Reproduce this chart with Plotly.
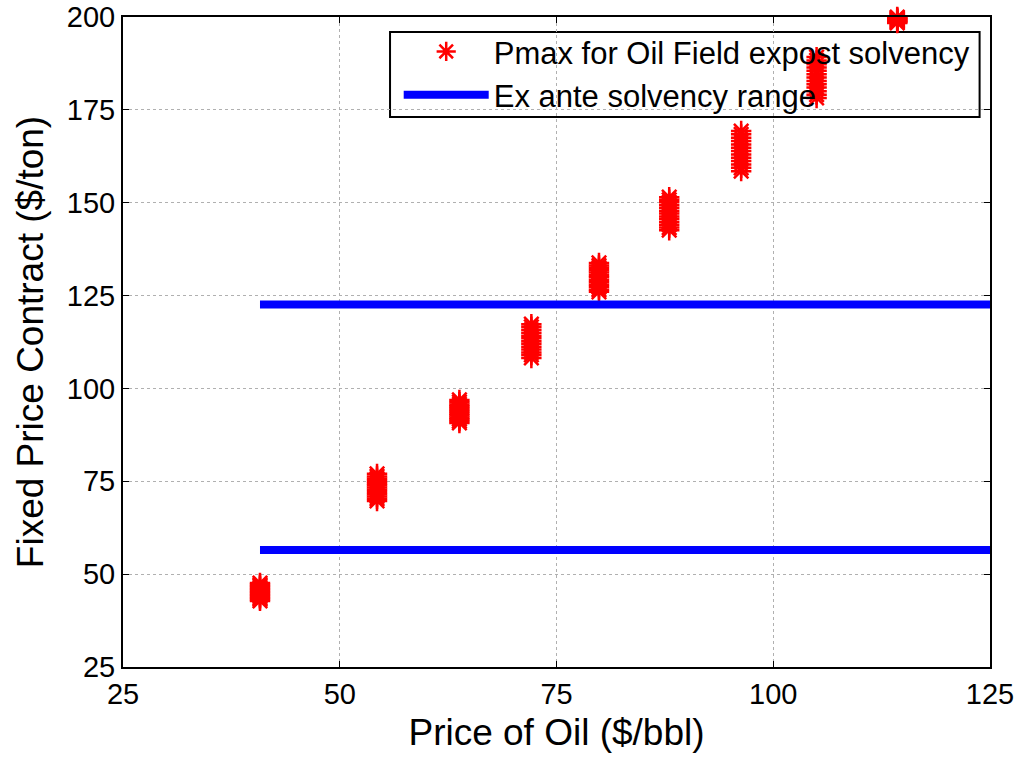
import plotly.graph_objects as go

# Oil price levels ($/bbl) of each cluster of Pmax points
oil_prices = [40.8, 54.3, 63.8, 72.1, 79.9, 88.0, 96.3, 105.0, 114.3]
# Pmax values ($/ton) read for each cluster
pmax_clusters = [
    [42.8, 43.2, 43.6, 44.0, 44.4, 44.8, 45.2, 45.6, 46.0, 46.4, 46.8, 47.2, 47.6],
    [69.7, 70.3, 70.9, 71.5, 72.1, 72.7, 73.3, 73.9, 74.5, 75.1, 75.7, 76.3, 77.0],
    [90.7, 91.2, 91.7, 92.2, 92.7, 93.2, 93.7, 94.2, 94.7, 95.2, 95.7, 96.3, 96.9],
    [108.2, 109.0, 109.7, 110.5, 111.2, 112.0, 112.7, 113.5, 114.2, 115.0, 115.8, 116.6, 117.3],
    [126.0, 126.6, 127.3, 127.9, 128.6, 129.2, 129.9, 130.5, 131.2, 131.8, 132.5, 133.1, 133.8],
    [142.6, 143.3, 144.1, 144.8, 145.6, 146.3, 147.1, 147.8, 148.6, 149.3, 150.1, 150.8, 151.5],
    [158.5, 159.4, 160.3, 161.2, 162.1, 163.0, 163.9, 164.8, 165.7, 166.6, 167.5, 168.4, 169.3],
    [178.2, 179.1, 180.0, 181.0, 181.9, 182.8, 183.7, 184.6, 185.5, 186.4, 187.3, 188.3, 189.2],
    [198.4, 198.6, 198.8, 199.0, 199.2, 199.4, 199.6, 199.8, 200.0, 200.1, 200.2, 200.3, 200.3],
]
# Ex ante solvency range bounds ($/ton)
solvency_low = 56.5
solvency_high = 122.6
range_x = [40.8, 125.0]

x_ticks = [25, 50, 75, 100, 125]
y_ticks = [25, 50, 75, 100, 125, 150, 175, 200]

xs, ys = [], []
for p, vals in zip(oil_prices, pmax_clusters):
    for v in vals:
        xs.append(p)
        ys.append(v)

fig = go.Figure()
fig.add_trace(go.Scatter(
    x=xs, y=ys, mode="markers", name="Pmax for Oil Field expost solvency",
    marker=dict(symbol="asterisk-open", size=17, color="red",
                line=dict(color="red", width=2.5)),
    cliponaxis=False,
))
fig.add_trace(go.Scatter(
    x=range_x, y=[solvency_high, solvency_high], mode="lines",
    name="Ex ante solvency range", line=dict(color="#0000ff", width=8),
))
fig.add_trace(go.Scatter(
    x=range_x, y=[solvency_low, solvency_low], mode="lines",
    showlegend=False, line=dict(color="#0000ff", width=8),
))

# legend box drawn beneath the data (as in the original figure)
fig.add_shape(type="rect", xref="paper", yref="paper",
              x0=0.308, x1=0.988, y0=0.846, y1=0.977,
              fillcolor="white", line=dict(color="black", width=2),
              layer="between")

axis_common = dict(
    showline=True, linecolor="black", linewidth=2, mirror="ticks",
    ticks="inside", ticklen=6, tickcolor="black",
    showgrid=True, gridcolor="#b0b0b0", griddash="dot", gridwidth=1,
    zeroline=False, tickfont=dict(size=29, color="black"), automargin=False,
)

fig.update_layout(
    width=1023, height=757,
    margin=dict(l=123, r=33, t=17, b=90),
    paper_bgcolor="white", plot_bgcolor="white",
    font=dict(family="Liberation Sans, Arial, sans-serif", color="black"),
    xaxis=dict(range=[25, 125], tickvals=x_ticks,
               title=dict(text="Price of Oil ($/bbl)", font=dict(size=37), standoff=10),
               **axis_common),
    yaxis=dict(range=[25, 200], tickvals=y_ticks,
               title=dict(text="Fixed Price Contract ($/ton)", font=dict(size=37), standoff=12),
               **axis_common),
    legend=dict(x=0.318, y=0.988, xanchor="left", yanchor="top",
                bgcolor="rgba(0,0,0,0)", borderwidth=0,
                font=dict(size=31, color="black"), itemwidth=85,
                tracegroupgap=0),
    showlegend=True,
)

fig.write_html("out.html")
